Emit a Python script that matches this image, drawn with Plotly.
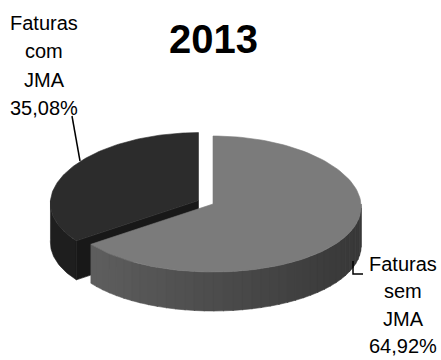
import numpy as np
import plotly.graph_objects as go

# ---- data ----
title_text = "2013"
labels = ["Faturas sem JMA", "Faturas com JMA"]
label_lines = [["Faturas", "sem", "JMA"], ["Faturas", "com", "JMA"]]
values = [64.92, 35.08]
pct_text = ["64,92%", "35,08%"]

# ---- style / geometry ----
W, H = 441, 360
cx, cy = 213, 204          # pie centre (pixels)
a, b = 148, 68             # ellipse semi-axes
depth = 39                 # thickness
persp = 0.04
explode = [0.0, 0.11]
top_cols = ["#7b7b7b", "#2c2c2c"]
side_dark = "#1e1e1e"
cut_dark = "#181818"

def proj(theta_deg, z, ox, oy, r=1.0):
    t = np.radians(theta_deg)
    c, s = np.cos(t), np.sin(t)
    x = cx + ox + a * r * c * (1 + persp * (-s))
    y = cy + oy - b * r * s + z
    return x, y

fig = go.Figure()

def poly(xs, ys, color):
    fig.add_trace(go.Scatter(x=list(xs) + [xs[0]], y=list(ys) + [ys[0]], mode="lines",
                             fill="toself", fillcolor=color,
                             line=dict(width=0.6, color=color),
                             hoverinfo="skip", showlegend=False))

total = sum(values)
spans = []
start = 90.0
for v in values:
    sweep = v / total * 360.0
    spans.append((start, start - sweep))
    start -= sweep

def offsets(i):
    s, e = spans[i]
    m = np.radians((s + e) / 2)
    return explode[i] * a * np.cos(m), -explode[i] * b * np.sin(m)

def arc(s, e, n=120):
    return np.linspace(s, e, n)

# dark slice (index 1) first: it's at the back/left
i = 1
s, e = spans[i]
ox, oy = offsets(i)
vis = arc(-180, s, 40)
xs_t, ys_t = proj(vis, 0, ox, oy)
xs_b, ys_b = proj(vis[::-1], depth, ox, oy)
poly(np.r_[xs_t, xs_b], np.r_[ys_t, ys_b], side_dark)
x0, y0 = cx + ox, cy + oy
x1, y1 = proj(s, 0, ox, oy)
poly([x0, x1, x1, x0], [y0, y1, y1 + depth, y0 + depth], cut_dark)
th = arc(s, e)
xs, ys = proj(th, 0, ox, oy)
poly(np.r_[x0, xs], np.r_[y0, ys], top_cols[i])

# gray slice (index 0)
i = 0
s, e = spans[i]
ox, oy = offsets(i)
vis = np.linspace(e, 0, 41)
c_left = np.array([0x62, 0x62, 0x62])
c_right = np.array([0x38, 0x38, 0x38])
for k in range(len(vis) - 1):
    seg = np.linspace(vis[k], vis[k + 1] + 0.3 if k < len(vis) - 2 else vis[k + 1], 4)
    xt, yt = proj(seg, 0, ox, oy)
    xb, yb = proj(seg[::-1], depth, ox, oy)
    xm = (xt.mean() - (cx - a)) / (2 * a)
    col = c_left + (c_right - c_left) * np.clip(xm, 0, 1)
    colr = "rgb(%d,%d,%d)" % tuple(col.astype(int))
    poly(np.r_[xt, xb], np.r_[yt, yb], colr)
th = arc(s, e)
xs, ys = proj(th, 0, ox, oy)
poly(np.r_[cx + ox, xs], np.r_[cy + oy, ys], top_cols[i])

# ---- labels ----
annots = []
lab_pos = [(403, 264), (44, 23)]
line_gaps = [27.3, 28.3]
for i in range(2):
    lines = label_lines[i] + [pct_text[i]]
    lx, ly = lab_pos[i]
    for j, t in enumerate(lines):
        annots.append(dict(x=lx, y=ly + j * line_gaps[i], xref="x", yref="y", text=t,
                           showarrow=False, xanchor="center", yanchor="middle",
                           font=dict(family="Liberation Sans, Arial", size=20, color="#000000")))
annots.append(dict(x=213, y=39, xref="x", yref="y", text="<b>%s</b>" % title_text,
                   showarrow=False, xanchor="center", yanchor="middle",
                   font=dict(family="Liberation Sans, Arial", size=40, color="#000000")))

shapes = [
    dict(type="line", x0=72, y0=116, x1=80, y1=161, xref="x", yref="y",
         line=dict(color="black", width=1.5)),
    dict(type="path", path="M 353 261 L 353 274 L 363 274", xref="x", yref="y",
         line=dict(color="black", width=1.5)),
]

fig.update_layout(
    width=W, height=H, margin=dict(l=0, r=0, t=0, b=0),
    paper_bgcolor="white", plot_bgcolor="white",
    xaxis=dict(range=[0, W], visible=False, fixedrange=True),
    yaxis=dict(range=[H, 0], visible=False, fixedrange=True),
    annotations=annots, shapes=shapes, showlegend=False,
)
fig.write_html("out.html")
